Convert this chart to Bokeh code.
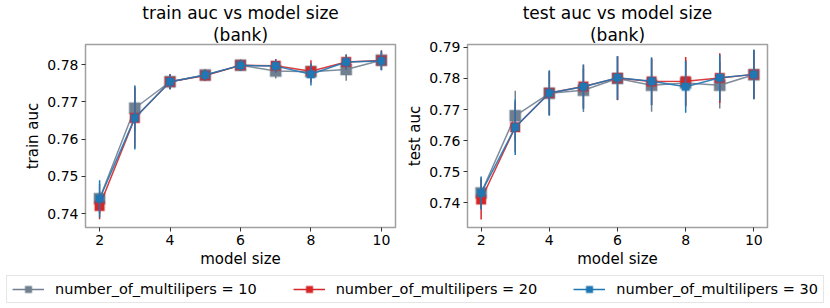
import math
from bokeh.plotting import figure
from bokeh.models import Title, Legend, LegendItem, Range1d, FixedTicker, CustomJSTickFormatter
from bokeh.layouts import column, row
from bokeh.embed import file_html
from bokeh.resources import INLINE

model_size = [2, 3, 4, 5, 6, 7, 8, 9, 10]
series_names = ["number_of_multilipers = 10", "number_of_multilipers = 20", "number_of_multilipers = 30"]

train_m10 = [0.7440, 0.7683, 0.7754, 0.7772, 0.7798, 0.7783, 0.7781, 0.7787, 0.7812]
train_m20 = [0.7421, 0.7657, 0.7754, 0.7771, 0.7798, 0.7797, 0.7782, 0.7807, 0.7811]
train_m30 = [0.7440, 0.7657, 0.7754, 0.7772, 0.7798, 0.7796, 0.7774, 0.7807, 0.7810]
train_e10 = [0.0040, 0.0062, 0.0020, 0.0015, 0.0015, 0.0020, 0.0020, 0.0030, 0.0027]
train_e20 = [0.0036, 0.0080, 0.0020, 0.0015, 0.0015, 0.0018, 0.0030, 0.0020, 0.0025]
train_e30 = [0.0050, 0.0085, 0.0020, 0.0015, 0.0015, 0.0018, 0.0030, 0.0020, 0.0025]

test_m10 = [0.7432, 0.7680, 0.7752, 0.7762, 0.7800, 0.7778, 0.7785, 0.7778, 0.7812]
test_m20 = [0.7411, 0.7643, 0.7753, 0.7774, 0.7801, 0.7790, 0.7791, 0.7801, 0.7813]
test_m30 = [0.7432, 0.7643, 0.7753, 0.7773, 0.7802, 0.7791, 0.7773, 0.7802, 0.7813]
test_e10 = [0.0050, 0.0080, 0.0070, 0.0070, 0.0070, 0.0085, 0.0075, 0.0075, 0.0080]
test_e20 = [0.0064, 0.0080, 0.0070, 0.0070, 0.0070, 0.0075, 0.0078, 0.0080, 0.0078]
test_e30 = [0.0053, 0.0089, 0.0073, 0.0072, 0.0070, 0.0077, 0.0083, 0.0074, 0.0079]

x_ticks = [2, 4, 6, 8, 10]
train_yticks = [0.74, 0.75, 0.76, 0.77, 0.78]
test_yticks = [0.74, 0.75, 0.76, 0.77, 0.78, 0.79]

colors = ["#708090", "#d62728", "#1f77b4"]
msizes = [11, 9.5, 7.5]
FONT = "DejaVu Sans"


def make_panel(title, ylabel, means, errs, yr, yticks, width, bl, br):
    p = figure(width=width, height=270, output_backend="svg", toolbar_location=None,
               x_range=Range1d(1.6, 10.4), y_range=Range1d(*yr),
               min_border_left=bl, min_border_right=br, min_border_top=42, min_border_bottom=41)
    p.add_layout(Title(text="(bank)", align="center", text_font_size="17px", text_font=FONT,
                       text_font_style="normal", text_color="black", text_line_height=1.0,
                       standoff=0, offset=0), "above")
    p.add_layout(Title(text=title, align="center", text_font_size="17px", text_font=FONT,
                       text_font_style="normal", text_color="black", text_line_height=1.0,
                       standoff=0, offset=0), "above")
    p.xgrid.visible = False
    p.ygrid.visible = False
    p.outline_line_color = "#a0a0a0"
    p.outline_line_width = 1.5
    for ax in (p.xaxis[0], p.yaxis[0]):
        ax.axis_line_color = None
        ax.major_tick_line_color = "#333333"
        ax.major_tick_out = 4
        ax.major_tick_in = 0
        ax.minor_tick_line_color = None
        ax.major_label_text_font = FONT
        ax.major_label_text_font_size = "14px"
        ax.major_label_text_color = "black"
        ax.axis_label_text_font = FONT
        ax.axis_label_text_font_size = "15px"
        ax.axis_label_text_font_style = "normal"
        ax.axis_label_text_color = "black"
        ax.major_label_standoff = 3
        ax.axis_label_standoff = 2
    p.xaxis.ticker = FixedTicker(ticks=x_ticks)
    p.yaxis.ticker = FixedTicker(ticks=yticks)
    p.xaxis.axis_label = "model size"
    p.yaxis.axis_label = ylabel
    p.yaxis.formatter = CustomJSTickFormatter(code="return tick.toFixed(2);")
    for m, e, c, s in zip(means, errs, colors, msizes):
        lo = [a - b for a, b in zip(m, e)]
        hi = [a + b for a, b in zip(m, e)]
        p.line(model_size, m, line_color=c, line_width=1.5, line_alpha=0.9)
        p.segment(x0=model_size, y0=lo, x1=model_size, y1=hi, line_color=c, line_width=1.5)
        p.scatter(model_size, m, marker="square", size=s, fill_color=c, line_color=c,
                  line_alpha=0.3, line_width=2)
    return p


p1 = make_panel("train auc vs model size", "train auc", [train_m10, train_m20, train_m30],
                [train_e10, train_e20, train_e30], (0.7363, 0.7854), train_yticks, 403, 85, 8)
p2 = make_panel("test auc vs model size", "test auc", [test_m10, test_m20, test_m30],
                [test_e10, test_e20, test_e30], (0.7321, 0.7909), test_yticks, 427, 54, 63)

pl = figure(width=830, height=38, output_backend="svg", toolbar_location=None,
            x_axis_type=None, y_axis_type=None, x_range=Range1d(0, 1), y_range=Range1d(0, 1),
            min_border=0, min_border_left=0, min_border_right=0, min_border_top=0, min_border_bottom=0)
pl.outline_line_color = None
pl.xgrid.visible = False
pl.ygrid.visible = False
items = []
for name, c, s in zip(series_names, colors, msizes):
    r1 = pl.line(x=[-5, -4], y=[-5, -4], line_color=c, line_width=1.5)
    r2 = pl.scatter(x=[-5], y=[-5], marker="dash", angle=math.pi / 2, size=16, line_color=c, line_width=1.5)
    r3 = pl.scatter(x=[-5], y=[-5], marker="square", size=s, fill_color=c, line_color=c,
                    line_alpha=0.3, line_width=2)
    items.append(LegendItem(label=name, renderers=[r1, r2, r3]))
leg = Legend(items=items, orientation="horizontal", location="center",
             label_text_font=FONT, label_text_font_size="14.5px", label_text_color="black",
             glyph_width=32, glyph_height=16, label_standoff=11, spacing=36, padding=5, margin=0,
             border_line_color="#cccccc", border_line_width=1, background_fill_color="white")
pl.add_layout(leg, "center")

layout = column(row(p1, p2), pl)
open("out.html", "w").write(file_html(layout, INLINE))
